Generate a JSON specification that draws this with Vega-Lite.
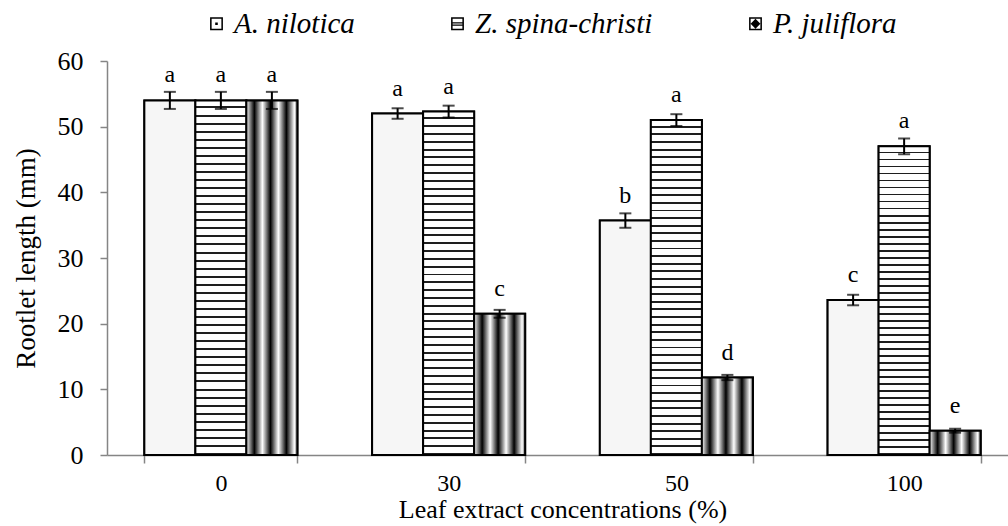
{
  "$schema": "https://vega.github.io/schema/vega-lite/v6.json",
  "autosize": "none",
  "width": 901,
  "height": 394,
  "padding": {"left": 107, "top": 61, "right": 0, "bottom": 71},
  "config": {
    "font": "Liberation Serif",
    "view": {"stroke": null},
    "axis": {"grid": false, "labelColor": "black", "titleColor": "black", "labelFont": "Liberation Serif", "titleFont": "Liberation Serif", "titleFontWeight": "normal", "domainColor": "#858585", "tickColor": "#858585", "domainWidth": 1.5, "tickWidth": 1.5},
    "legend": {"labelFont": "Liberation Serif", "titleFont": "Liberation Serif"}
  },
  "data": {
    "values": [
      {"conc": "0", "species": "A. nilotica", "mean": 54.0, "err": 1.3, "letter": "a"},
      {"conc": "0", "species": "Z. spina-christi", "mean": 54.0, "err": 1.3, "letter": "a"},
      {"conc": "0", "species": "P. juliflora", "mean": 54.0, "err": 1.3, "letter": "a"},
      {"conc": "30", "species": "A. nilotica", "mean": 52.0, "err": 0.8, "letter": "a"},
      {"conc": "30", "species": "Z. spina-christi", "mean": 52.3, "err": 0.9, "letter": "a"},
      {"conc": "30", "species": "P. juliflora", "mean": 21.5, "err": 0.6, "letter": "c"},
      {"conc": "50", "species": "A. nilotica", "mean": 35.7, "err": 1.1, "letter": "b"},
      {"conc": "50", "species": "Z. spina-christi", "mean": 51.0, "err": 0.9, "letter": "a"},
      {"conc": "50", "species": "P. juliflora", "mean": 11.8, "err": 0.4, "letter": "d"},
      {"conc": "100", "species": "A. nilotica", "mean": 23.6, "err": 0.8, "letter": "c"},
      {"conc": "100", "species": "Z. spina-christi", "mean": 47.0, "err": 1.2, "letter": "a"},
      {"conc": "100", "species": "P. juliflora", "mean": 3.7, "err": 0.3, "letter": "e"}
    ]
  },
  "encoding": {
    "x": {
      "field": "conc", "type": "nominal", "sort": ["0", "30", "50", "100"],
      "scale": {"range": [0, 911], "paddingInner": 0.328, "paddingOuter": 0.164},
      "axis": {"title": "Leaf extract concentrations (%)", "labelAngle": 0, "labelFont": "Liberation Serif", "titleFont": "Liberation Serif", "labelFontSize": 24, "titleFontSize": 26, "tickBand": "extent", "tickSize": 8, "labelPadding": 8, "titlePadding": 1}
    },
    "xOffset": {
      "field": "species", "type": "nominal",
      "scale": {"domain": ["A. nilotica", "Z. spina-christi", "P. juliflora"], "paddingInner": 0, "paddingOuter": 0}
    },
    "y": {"field": "mean", "type": "quantitative", "scale": {"domain": [0, 60]},
      "axis": {"title": "Rootlet length (mm)", "values": [0, 10, 20, 30, 40, 50, 60], "labelFont": "Liberation Serif", "titleFont": "Liberation Serif", "labelFontSize": 26, "titleFontSize": 27, "tickSize": 7, "labelPadding": 17, "titlePadding": 17}}
  },
  "layer": [
    {
      "mark": {"type": "bar", "stroke": "black", "strokeWidth": 2},
      "encoding": {
        "color": {
          "field": "species", "type": "nominal",
          "scale": {"domain": ["A. nilotica", "Z. spina-christi", "P. juliflora"], "range": ["#000000", "#000000", "#000000"]},
          "legend": {
            "title": null, "orient": "none", "direction": "horizontal", "legendX": 95, "legendY": -52,
            "labelFontSize": 29, "labelFontStyle": "italic", "labelFont": "Liberation Serif", "labelColor": "black", "labelLimit": 400,
            "symbolSize": 165, "columnPadding": 88, "labelOffset": 3, "symbolStrokeWidth": 0,
            "symbolType": {"expr": "datum.value === 'A. nilotica' ? 'M-1,-1H1V1H-1ZM-0.76,-0.76V0.76H0.76V-0.76ZM-0.2,-0.2H0.2V0.2H-0.2Z' : datum.value === 'Z. spina-christi' ? 'M-1,-1H1V1H-1ZM-0.76,-0.76V0.76H0.76V-0.76ZM-0.76,-0.24H0.76V-0.04H-0.76ZM-0.76,0.1H0.76V0.3H-0.76Z' : 'M-1,-1H1V1H-1ZM-0.76,-0.76V0.76H0.76V-0.76ZM0,-0.76L0.76,0L0,0.76L-0.76,0Z'"}
          }
        }
      }
    },
    {
      "transform": [{"filter": "datum.species === 'A. nilotica'"}],
      "mark": {"type": "bar", "stroke": "black", "strokeWidth": 2, "fill": "#f6f6f6"}
    },
    {
      "transform": [{"filter": "datum.species === 'Z. spina-christi'"}],
      "mark": {"type": "bar", "stroke": "black", "strokeWidth": 2,
        "fill": {"gradient": "linear", "x1": 0, "y1": 0, "x2": 0, "y2": 1, "stops": [
          {"offset": 0, "color": "#ffffff"}, {"offset": 0.01705, "color": "#ffffff"}, {"offset": 0.01705, "color": "#1e1e1e"}, {"offset": 0.02273, "color": "#1e1e1e"},
          {"offset": 0.02273, "color": "#ffffff"}, {"offset": 0.03977, "color": "#ffffff"}, {"offset": 0.03977, "color": "#1e1e1e"}, {"offset": 0.04545, "color": "#1e1e1e"},
          {"offset": 0.04545, "color": "#ffffff"}, {"offset": 0.0625, "color": "#ffffff"}, {"offset": 0.0625, "color": "#1e1e1e"}, {"offset": 0.06818, "color": "#1e1e1e"},
          {"offset": 0.06818, "color": "#ffffff"}, {"offset": 0.08523, "color": "#ffffff"}, {"offset": 0.08523, "color": "#1e1e1e"}, {"offset": 0.09091, "color": "#1e1e1e"},
          {"offset": 0.09091, "color": "#ffffff"}, {"offset": 0.10795, "color": "#ffffff"}, {"offset": 0.10795, "color": "#1e1e1e"}, {"offset": 0.11364, "color": "#1e1e1e"},
          {"offset": 0.11364, "color": "#ffffff"}, {"offset": 0.13068, "color": "#ffffff"}, {"offset": 0.13068, "color": "#1e1e1e"}, {"offset": 0.13636, "color": "#1e1e1e"},
          {"offset": 0.13636, "color": "#ffffff"}, {"offset": 0.15341, "color": "#ffffff"}, {"offset": 0.15341, "color": "#1e1e1e"}, {"offset": 0.15909, "color": "#1e1e1e"},
          {"offset": 0.15909, "color": "#ffffff"}, {"offset": 0.17614, "color": "#ffffff"}, {"offset": 0.17614, "color": "#1e1e1e"}, {"offset": 0.18182, "color": "#1e1e1e"},
          {"offset": 0.18182, "color": "#ffffff"}, {"offset": 0.19886, "color": "#ffffff"}, {"offset": 0.19886, "color": "#1e1e1e"}, {"offset": 0.20455, "color": "#1e1e1e"},
          {"offset": 0.20455, "color": "#ffffff"}, {"offset": 0.22159, "color": "#ffffff"}, {"offset": 0.22159, "color": "#1e1e1e"}, {"offset": 0.22727, "color": "#1e1e1e"},
          {"offset": 0.22727, "color": "#ffffff"}, {"offset": 0.24432, "color": "#ffffff"}, {"offset": 0.24432, "color": "#1e1e1e"}, {"offset": 0.25, "color": "#1e1e1e"},
          {"offset": 0.25, "color": "#ffffff"}, {"offset": 0.26705, "color": "#ffffff"}, {"offset": 0.26705, "color": "#1e1e1e"}, {"offset": 0.27273, "color": "#1e1e1e"},
          {"offset": 0.27273, "color": "#ffffff"}, {"offset": 0.28977, "color": "#ffffff"}, {"offset": 0.28977, "color": "#1e1e1e"}, {"offset": 0.29545, "color": "#1e1e1e"},
          {"offset": 0.29545, "color": "#ffffff"}, {"offset": 0.3125, "color": "#ffffff"}, {"offset": 0.3125, "color": "#1e1e1e"}, {"offset": 0.31818, "color": "#1e1e1e"},
          {"offset": 0.31818, "color": "#ffffff"}, {"offset": 0.33523, "color": "#ffffff"}, {"offset": 0.33523, "color": "#1e1e1e"}, {"offset": 0.34091, "color": "#1e1e1e"},
          {"offset": 0.34091, "color": "#ffffff"}, {"offset": 0.35795, "color": "#ffffff"}, {"offset": 0.35795, "color": "#1e1e1e"}, {"offset": 0.36364, "color": "#1e1e1e"},
          {"offset": 0.36364, "color": "#ffffff"}, {"offset": 0.38068, "color": "#ffffff"}, {"offset": 0.38068, "color": "#1e1e1e"}, {"offset": 0.38636, "color": "#1e1e1e"},
          {"offset": 0.38636, "color": "#ffffff"}, {"offset": 0.40341, "color": "#ffffff"}, {"offset": 0.40341, "color": "#1e1e1e"}, {"offset": 0.40909, "color": "#1e1e1e"},
          {"offset": 0.40909, "color": "#ffffff"}, {"offset": 0.42614, "color": "#ffffff"}, {"offset": 0.42614, "color": "#1e1e1e"}, {"offset": 0.43182, "color": "#1e1e1e"},
          {"offset": 0.43182, "color": "#ffffff"}, {"offset": 0.44886, "color": "#ffffff"}, {"offset": 0.44886, "color": "#1e1e1e"}, {"offset": 0.45455, "color": "#1e1e1e"},
          {"offset": 0.45455, "color": "#ffffff"}, {"offset": 0.47159, "color": "#ffffff"}, {"offset": 0.47159, "color": "#1e1e1e"}, {"offset": 0.47727, "color": "#1e1e1e"},
          {"offset": 0.47727, "color": "#ffffff"}, {"offset": 0.49432, "color": "#ffffff"}, {"offset": 0.49432, "color": "#1e1e1e"}, {"offset": 0.5, "color": "#1e1e1e"},
          {"offset": 0.5, "color": "#ffffff"}, {"offset": 0.51705, "color": "#ffffff"}, {"offset": 0.51705, "color": "#1e1e1e"}, {"offset": 0.52273, "color": "#1e1e1e"},
          {"offset": 0.52273, "color": "#ffffff"}, {"offset": 0.53977, "color": "#ffffff"}, {"offset": 0.53977, "color": "#1e1e1e"}, {"offset": 0.54545, "color": "#1e1e1e"},
          {"offset": 0.54545, "color": "#ffffff"}, {"offset": 0.5625, "color": "#ffffff"}, {"offset": 0.5625, "color": "#1e1e1e"}, {"offset": 0.56818, "color": "#1e1e1e"},
          {"offset": 0.56818, "color": "#ffffff"}, {"offset": 0.58523, "color": "#ffffff"}, {"offset": 0.58523, "color": "#1e1e1e"}, {"offset": 0.59091, "color": "#1e1e1e"},
          {"offset": 0.59091, "color": "#ffffff"}, {"offset": 0.60795, "color": "#ffffff"}, {"offset": 0.60795, "color": "#1e1e1e"}, {"offset": 0.61364, "color": "#1e1e1e"},
          {"offset": 0.61364, "color": "#ffffff"}, {"offset": 0.63068, "color": "#ffffff"}, {"offset": 0.63068, "color": "#1e1e1e"}, {"offset": 0.63636, "color": "#1e1e1e"},
          {"offset": 0.63636, "color": "#ffffff"}, {"offset": 0.65341, "color": "#ffffff"}, {"offset": 0.65341, "color": "#1e1e1e"}, {"offset": 0.65909, "color": "#1e1e1e"},
          {"offset": 0.65909, "color": "#ffffff"}, {"offset": 0.67614, "color": "#ffffff"}, {"offset": 0.67614, "color": "#1e1e1e"}, {"offset": 0.68182, "color": "#1e1e1e"},
          {"offset": 0.68182, "color": "#ffffff"}, {"offset": 0.69886, "color": "#ffffff"}, {"offset": 0.69886, "color": "#1e1e1e"}, {"offset": 0.70455, "color": "#1e1e1e"},
          {"offset": 0.70455, "color": "#ffffff"}, {"offset": 0.72159, "color": "#ffffff"}, {"offset": 0.72159, "color": "#1e1e1e"}, {"offset": 0.72727, "color": "#1e1e1e"},
          {"offset": 0.72727, "color": "#ffffff"}, {"offset": 0.74432, "color": "#ffffff"}, {"offset": 0.74432, "color": "#1e1e1e"}, {"offset": 0.75, "color": "#1e1e1e"},
          {"offset": 0.75, "color": "#ffffff"}, {"offset": 0.76705, "color": "#ffffff"}, {"offset": 0.76705, "color": "#1e1e1e"}, {"offset": 0.77273, "color": "#1e1e1e"},
          {"offset": 0.77273, "color": "#ffffff"}, {"offset": 0.78977, "color": "#ffffff"}, {"offset": 0.78977, "color": "#1e1e1e"}, {"offset": 0.79545, "color": "#1e1e1e"},
          {"offset": 0.79545, "color": "#ffffff"}, {"offset": 0.8125, "color": "#ffffff"}, {"offset": 0.8125, "color": "#1e1e1e"}, {"offset": 0.81818, "color": "#1e1e1e"},
          {"offset": 0.81818, "color": "#ffffff"}, {"offset": 0.83523, "color": "#ffffff"}, {"offset": 0.83523, "color": "#1e1e1e"}, {"offset": 0.84091, "color": "#1e1e1e"},
          {"offset": 0.84091, "color": "#ffffff"}, {"offset": 0.85795, "color": "#ffffff"}, {"offset": 0.85795, "color": "#1e1e1e"}, {"offset": 0.86364, "color": "#1e1e1e"},
          {"offset": 0.86364, "color": "#ffffff"}, {"offset": 0.88068, "color": "#ffffff"}, {"offset": 0.88068, "color": "#1e1e1e"}, {"offset": 0.88636, "color": "#1e1e1e"},
          {"offset": 0.88636, "color": "#ffffff"}, {"offset": 0.90341, "color": "#ffffff"}, {"offset": 0.90341, "color": "#1e1e1e"}, {"offset": 0.90909, "color": "#1e1e1e"},
          {"offset": 0.90909, "color": "#ffffff"}, {"offset": 0.92614, "color": "#ffffff"}, {"offset": 0.92614, "color": "#1e1e1e"}, {"offset": 0.93182, "color": "#1e1e1e"},
          {"offset": 0.93182, "color": "#ffffff"}, {"offset": 0.94886, "color": "#ffffff"}, {"offset": 0.94886, "color": "#1e1e1e"}, {"offset": 0.95455, "color": "#1e1e1e"},
          {"offset": 0.95455, "color": "#ffffff"}, {"offset": 0.97159, "color": "#ffffff"}, {"offset": 0.97159, "color": "#1e1e1e"}, {"offset": 0.97727, "color": "#1e1e1e"},
          {"offset": 0.97727, "color": "#ffffff"}, {"offset": 0.99432, "color": "#ffffff"}, {"offset": 0.99432, "color": "#1e1e1e"}, {"offset": 1, "color": "#1e1e1e"}
        ]}
      }
    },
    {
      "transform": [{"filter": "datum.species === 'P. juliflora'"}],
      "mark": {"type": "bar", "stroke": "black", "strokeWidth": 2,
        "fill": {"gradient": "linear", "x1": 0, "y1": 0, "x2": 1, "y2": 0, "stops": [
          {"offset": 0, "color": "#ffffff"}, {"offset": 0.157, "color": "#000000"}, {"offset": 0.314, "color": "#ffffff"},
          {"offset": 0.471, "color": "#000000"}, {"offset": 0.627, "color": "#ffffff"}, {"offset": 0.784, "color": "#000000"},
          {"offset": 0.941, "color": "#ffffff"}, {"offset": 1, "color": "#555555"}
        ]}
      }
    },
    {
      "mark": {"type": "errorbar", "ticks": {"size": 12, "thickness": 2, "color": "black"}, "rule": {"strokeWidth": 2, "color": "black"}},
      "encoding": {
        "yError": {"field": "err"}
      }
    },
    {
      "mark": {"type": "text", "dy": -18, "baseline": "alphabetic", "fontSize": 24, "font": "Liberation Serif", "color": "black"},
      "encoding": {
        "text": {"field": "letter"}
      }
    }
  ]
}
